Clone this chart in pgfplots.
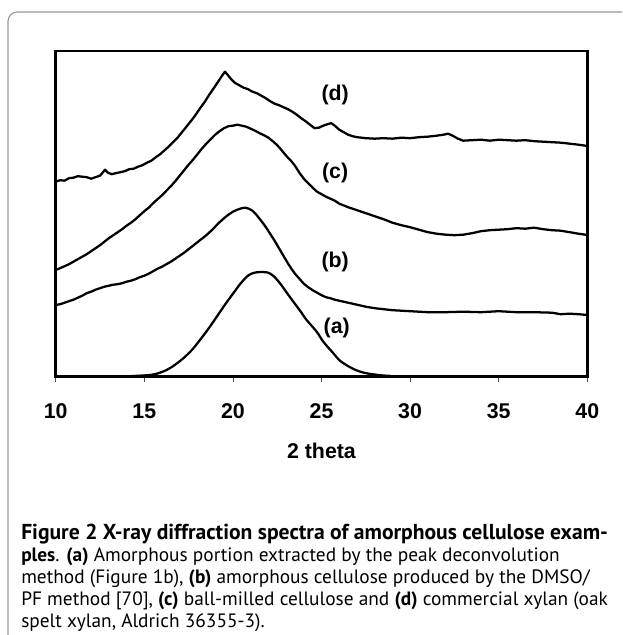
\documentclass[border=0pt]{standalone}
\usepackage{fontspec}
\usepackage{graphicx}
\usepackage{pgfplots}
\pgfplotsset{compat=1.18}
\setmainfont{Liberation Sans}
\newfontfamily\capfont{PT Sans}
\definecolor{frame}{RGB}{150,150,150}
\definecolor{captxt}{RGB}{35,31,32}
\newsavebox\lineone
\newsavebox\linetwo
\newsavebox\linethree
\newsavebox\linefour
\newsavebox\linefive
\begin{document}
\sbox\lineone{\capfont\fontsize{14}{16}\selectfont\textbf{Figure 2 X-ray diffraction spectra of amorphous cellulose exam-}}%
\sbox\linetwo{\capfont\fontsize{14}{16}\selectfont\textbf{ples}. \textbf{(a)} Amorphous portion extracted by the peak deconvolution}%
\sbox\linethree{\capfont\fontsize{14}{16}\selectfont method (Figure 1b), \textbf{(b)} amorphous cellulose produced by the DMSO/}%
\sbox\linefour{\capfont\fontsize{14}{16}\selectfont PF method [70], \textbf{(c)} ball-milled cellulose and \textbf{(d)} commercial xylan (oak}%
\sbox\linefive{\capfont\fontsize{14}{16}\selectfont spelt xylan, Aldrich 36355-3).}%
\pgfmathsetmacro\capscaleA{min(1.18, 440/(\the\wd\lineone))}%
\pgfmathsetmacro\capscale{min(443/(\the\wd\linethree), 440/(\the\wd\linefour))}%
\begin{tikzpicture}[x=0.75pt,y=-0.75pt]
\path[use as bounding box] (0,0) rectangle (622,635);
\begin{scope}
\clip (0,0) rectangle (622,635);
\draw[frame, line width=0.8pt, rounded corners=7pt] (8,645) -- (8,12) -- (660,12);
\end{scope}
\begin{axis}[
  at={(41.775pt,-282.525pt)}, anchor=south west,
  scale only axis, width=398.7pt, height=244.3pt,
  xmin=10, xmax=40, ymin=0, ymax=325.7,
  xtick={10,15,20,25,30,35,40}, ytick=\empty,
  xtick pos=bottom, tick align=outside, major tick length=4pt,
  axis line style={line width=2.1pt},
  every tick/.style={black!70, line width=0.6pt},
  /pgf/number format/assume math mode=true,
  xticklabel style={font=\fontsize{16}{18}\selectfont\bfseries, anchor=base, yshift=-27.5pt},
  xlabel={2 theta},
  xlabel style={font=\fontsize{16}{18}\selectfont\bfseries, at={(axis description cs:0.5,0)}, anchor=base, yshift=-61pt},
  clip=false,
]
\addplot[black, no marks, line width=1.7pt, line join=round] table {
10.00 195
10.25 196.5
10.50 196
10.75 198.5
11.00 199
11.25 200.5
11.50 200
11.75 199.5
12.00 198
12.25 199.5
12.50 201
12.65 204
12.78 207
12.95 204
13.16 202.5
13.40 203.5
13.65 204.5
13.90 205.5
14.15 207.5
14.40 208
14.65 210
14.90 211.5
15.15 214
15.40 216
15.65 219.5
15.90 222.5
16.15 226.5
16.40 230.5
16.65 235
16.90 239.5
17.15 245
17.40 250.5
17.65 256
17.90 262
18.15 268.5
18.40 274.5
18.65 281.5
18.90 288
19.15 294.5
19.35 300
19.55 305
19.70 302
19.90 297.5
20.10 294
20.35 291.5
20.60 289
20.85 287.5
21.10 285
21.35 283.5
21.60 281
21.85 278.5
22.10 275.5
22.35 273
22.60 271.5
22.85 269.5
23.10 267.5
23.35 265
23.60 262
23.85 258.5
24.10 255.5
24.35 252
24.60 248.5
24.85 249
25.10 251
25.35 252.5
25.55 253.5
25.75 251
26.00 247
26.25 244.5
26.50 242
26.75 240.5
27.00 239.5
27.50 238.5
28.00 238
28.50 238.5
29.00 238
29.50 239
30.00 238.5
30.50 239.5
31.00 240
31.50 241
31.90 242
32.15 243
32.40 241
32.70 238
33.00 236
33.50 236.5
34.00 237
34.50 236
35.00 237
35.50 236.5
36.00 236
36.50 236.5
37.00 235.5
37.50 235
38.00 234.5
38.50 234
39.00 233
39.50 232
40.00 230.7
};
\addplot[black, no marks, line width=1.7pt, line join=round] table {
10.00 106.7
10.25 108.5
10.50 110.5
10.75 112.5
11.00 115
11.25 117.5
11.50 120
11.75 122.5
12.00 125.5
12.25 128.5
12.50 131.5
12.75 135
13.00 138.5
13.25 141.5
13.50 144.5
13.75 147.5
14.00 151
14.25 154
14.50 157.5
14.75 161.5
15.00 165.5
15.25 169
15.50 173.5
15.75 177.5
16.00 181.5
16.25 186
16.50 190.5
16.75 195.5
17.00 201
17.25 206.5
17.50 212
17.75 217
18.00 222.5
18.25 228
18.50 233
18.75 237.5
19.00 242
19.25 245.5
19.50 248.5
19.75 250.5
20.00 251
20.25 252
20.50 251
20.75 250
21.00 248
21.25 246
21.50 243.5
21.75 241.5
22.00 239
22.25 235.5
22.50 231.5
22.75 226.5
23.00 221
23.25 216.5
23.50 211
23.75 204
24.00 198
24.25 193.5
24.50 189
24.75 185
25.00 182.5
25.25 180
25.50 178
25.75 176
26.00 173
26.50 169.5
27.00 166.5
27.50 163.5
28.00 160.5
28.50 157.5
29.00 154
29.50 151.5
30.00 149.5
30.50 147
31.00 144.5
31.50 143
32.00 142
32.50 141.5
33.00 142
33.50 143.5
34.00 145.5
34.50 146.5
35.00 147
35.50 147.5
36.00 148.5
36.50 148
37.00 149
37.50 147.5
38.00 146.5
38.50 146
39.00 144.5
39.50 143
40.00 141.7
};
\addplot[black, no marks, line width=1.7pt, line join=round] table {
10.00 71.7
10.25 72.5
10.50 74
10.75 75.5
11.00 77
11.25 79
11.50 81
11.75 83.5
12.00 85
12.25 87
12.50 88.5
12.75 90
13.00 91
13.25 92
13.50 92.5
13.75 93.5
14.00 95
14.25 96
14.50 97.5
14.75 99.5
15.00 101
15.25 103
15.50 105.5
15.75 108
16.00 110
16.25 112.5
16.50 115
16.75 118
17.00 121
17.25 124
17.50 127.5
17.75 131
18.00 134.5
18.25 138
18.50 141.5
18.75 145.5
19.00 150
19.25 154.5
19.50 158.5
19.75 162
20.00 165
20.25 167
20.50 168.5
20.70 169
20.90 168
21.10 166
21.30 162.5
21.50 158
21.70 153.5
21.90 148.5
22.10 143
22.30 137.5
22.50 131.5
22.70 125.5
22.90 119.5
23.10 113.5
23.30 108
23.50 103
23.75 98
24.00 93
24.25 89.5
24.50 86.5
24.75 84
25.00 81.5
25.25 79.5
25.50 78.5
25.75 77
26.00 76
26.50 74
27.00 72
27.50 70
28.00 68.5
28.50 67.5
29.00 66.5
29.50 66
30.00 65.5
30.50 65
31.00 64.5
31.50 64.5
32.00 64.5
33.00 65
34.00 64.5
35.00 65.5
36.00 64.5
37.00 64.5
38.00 64
38.50 62.5
39.00 63
39.50 62.5
40.00 61.7
};
\addplot[black, no marks, line width=1.7pt, smooth] table {
13.50 0
14.38 0.7
15.32 1.7
15.80 3.5
16.26 6.7
16.70 11.5
17.20 18.4
17.70 27
18.14 36.7
18.60 47.5
19.09 60
19.55 72
20.02 83.4
20.40 92.5
20.78 100
21.05 103
21.34 104.4
21.70 104.6
22.00 104
22.30 100.5
22.66 93.4
23.00 85
23.41 75
23.79 66
24.16 56.7
24.73 45
25.10 35
25.67 23.4
26.04 16
26.61 9.5
27.10 5.5
27.55 3.4
28.30 1.5
28.96 0.7
};
\node[font=\fontsize{16}{18}\selectfont\bfseries] at (axis cs:25.77,281.7) {(d)};
\node[font=\fontsize{16}{18}\selectfont\bfseries] at (axis cs:25.77,203.4) {(c)};
\node[font=\fontsize{16}{18}\selectfont\bfseries] at (axis cs:25.77,115) {(b)};
\node[font=\fontsize{16}{18}\selectfont\bfseries] at (axis cs:25.86,48.4) {(a)};
\end{axis}
\begin{scope}[every node/.style={anchor=base west, inner sep=0pt, text=captxt}]
\node at (21,539) {\scalebox{\capscaleA}{\usebox\lineone}};
\node at (21,561) {\scalebox{\capscale}{\usebox\linetwo}};
\node at (21,583) {\scalebox{\capscale}{\usebox\linethree}};
\node at (21,605) {\scalebox{\capscale}{\usebox\linefour}};
\node at (21,627) {\scalebox{\capscale}{\usebox\linefive}};
\end{scope}
\end{tikzpicture}
\end{document}
